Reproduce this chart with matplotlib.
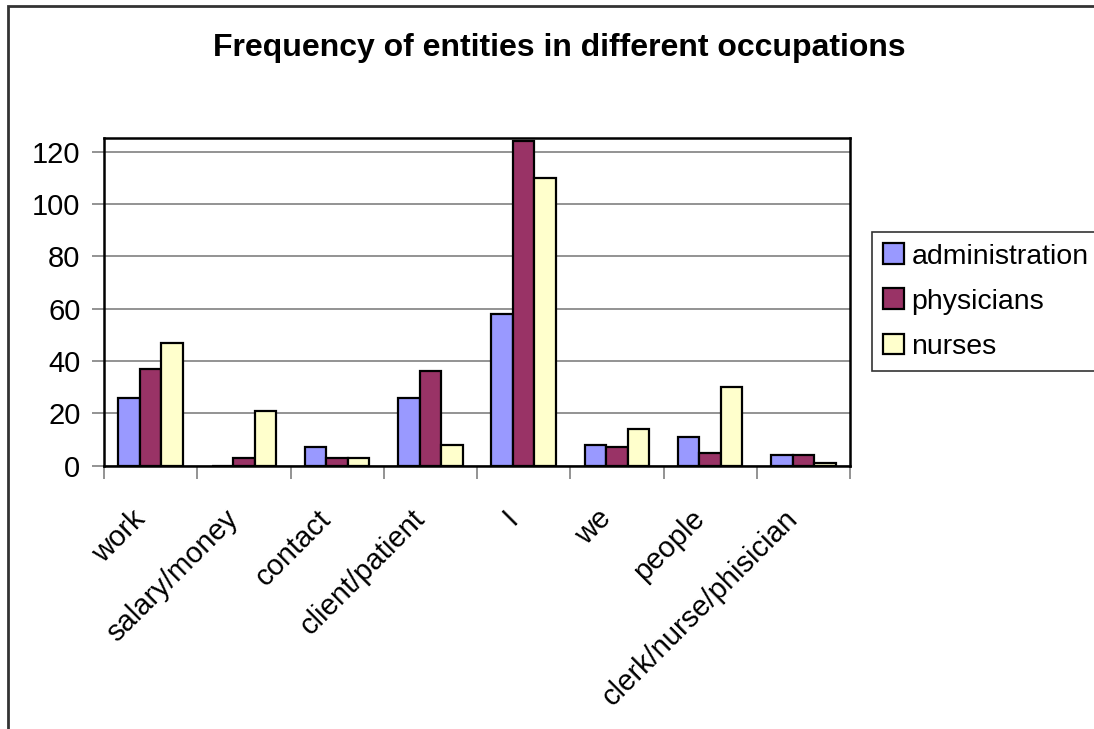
import matplotlib.pyplot as plt
import matplotlib.transforms as mtransforms
import numpy as np
from matplotlib.patches import Rectangle

plt.rcParams['font.family'] = ['Liberation Sans', 'DejaVu Sans']

categories = ["work", "salary/money", "contact", "client/patient", "I",
              "we", "people", "clerk/nurse/phisician"]
series_names = ["administration", "physicians", "nurses"]
administration = [26, 0, 7, 26, 58, 8, 11, 4]
physicians = [37, 3, 3, 36, 124, 7, 5, 4]
nurses = [47, 21, 3, 8, 110, 14, 30, 1]
y_ticks = [0, 20, 40, 60, 80, 100, 120]

colors = ["#9999FF", "#993366", "#FFFFCC"]

W, H = 1094, 729
fig = plt.figure(figsize=(W / 100, H / 100), dpi=100)

# plot area in pixel coordinates
left, right, top, bottom = 104, 850, 137.5, 465.7
ax = fig.add_axes([left / W, 1 - bottom / H, (right - left) / W, (bottom - top) / H])

x = np.arange(len(categories))
bw = 0.23
for i, (vals, name) in enumerate(zip([administration, physicians, nurses], series_names)):
    ax.bar(x + (i - 1) * bw, vals, width=bw, color=colors[i], edgecolor="black",
           linewidth=1.6, label=name, zorder=3)

ax.set_xlim(-0.5, len(categories) - 0.5)
ax.set_ylim(0, 125.4)
ax.set_yticks(y_ticks)
ax.set_yticklabels([str(v) for v in y_ticks], fontsize=21)
ax.yaxis.grid(True, color="#808080", linewidth=1.2, zorder=0)

# category boundaries as tick marks, labels centred under each group
ax.set_xticks(np.arange(len(categories) + 1) - 0.5)
ax.set_xticklabels([])
ax.set_xticks(x, minor=True)
ax.set_xticklabels(categories, minor=True, rotation=45, ha="right",
                   rotation_mode="anchor", fontsize=21)
ax.tick_params(axis="x", which="minor", length=0, pad=28)
ax.tick_params(axis="x", which="major", length=9, width=1.2, color="#808080", direction="out")
ax.tick_params(axis="y", length=9, width=1.2, color="#808080", direction="out", pad=8)

shift = mtransforms.ScaledTranslation(-0.2, 0, fig.dpi_scale_trans)
for lbl in ax.xaxis.get_minorticklabels():
    lbl.set_transform(lbl.get_transform() + shift)

for s in ax.spines.values():
    s.set_linewidth(1.8)
    s.set_color("black")

fig.text(559 / W, 1 - 48 / H, "Frequency of entities in different occupations",
         ha="center", va="center", fontsize=23, fontweight="bold")

leg = fig.legend(loc="upper left", bbox_to_anchor=(872 / W, 0, 0.3, 1 - 232 / H),
                 mode="expand", fontsize=20.5, frameon=True, fancybox=False,
                 edgecolor="black", handlelength=0.74, handleheight=0.74,
                 handletextpad=0.25, borderpad=0.4, borderaxespad=0,
                 labelspacing=0.66)
leg.get_frame().set_linewidth(1.2)

# chart border (left and top edges visible)
fig.patches.append(Rectangle((8 / W, -0.1), 1.2, (H - 6) / H + 0.1,
                             transform=fig.transFigure, fill=False,
                             edgecolor="#333333", linewidth=2))

fig.savefig("out.png", dpi=100)
